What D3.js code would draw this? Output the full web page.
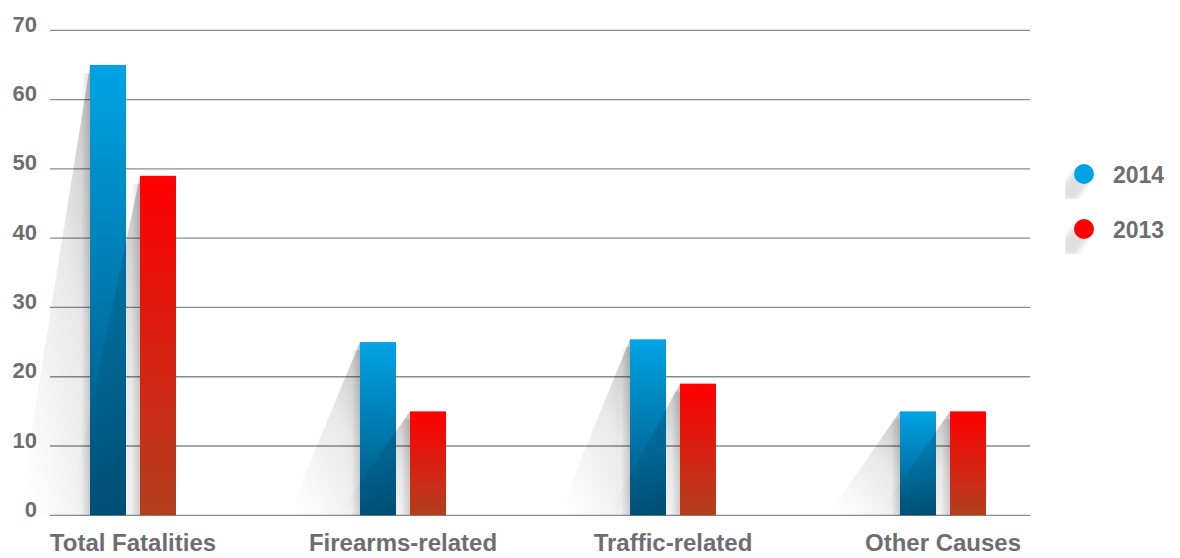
<!DOCTYPE html>
<html>
<head>
<meta charset="utf-8">
<script src="https://cdn.jsdelivr.net/npm/d3@7"></script>
<style>
  html, body { margin: 0; padding: 0; background: #fff; }
  svg { display: block; }
  text { font-family: "Liberation Sans", Arial, Helvetica, sans-serif; font-weight: bold; fill: #6d6e71; }
</style>
</head>
<body>
<svg id="chart" width="1180" height="558"></svg>
<script>
const categories = ["Total Fatalities", "Firearms-related", "Traffic-related", "Other Causes"];
const seriesNames = ["2014", "2013"];
const values2014 = [65, 25, 25.4, 15];
const values2013 = [49, 15, 19, 15];
const yTicks = [0, 10, 20, 30, 40, 50, 60, 70];

const svg = d3.select("#chart");
const plotLeft = 50, plotRight = 1030;

const y = d3.scaleLinear().domain([0, 70]).range([515.3, 30.3]);
const x0 = d3.scaleBand().domain(categories).range([-2, 1078]).padding(0);
const x1 = d3.scaleBand().domain(seriesNames).range([-43, 43]).paddingInner(0.28).paddingOuter(0);

const defs = svg.append("defs");
function vgrad(id, top, bottom) {
  const g = defs.append("linearGradient").attr("id", id).attr("x1", 0).attr("y1", 0).attr("x2", 0).attr("y2", 1);
  g.append("stop").attr("offset", "0%").attr("stop-color", top);
  g.append("stop").attr("offset", "100%").attr("stop-color", bottom);
}
vgrad("g2014", "#00a4e6", "#005078");
vgrad("g2013", "#ff0000", "#b2401f");

const sg = defs.append("linearGradient").attr("id", "shadowGrad").attr("x1", 1).attr("y1", 0).attr("x2", 0.15).attr("y2", 1);
sg.append("stop").attr("offset", "0%").attr("stop-color", "#000").attr("stop-opacity", 0.24);
sg.append("stop").attr("offset", "40%").attr("stop-color", "#000").attr("stop-opacity", 0.09);
sg.append("stop").attr("offset", "100%").attr("stop-color", "#000").attr("stop-opacity", 0);

const eg = defs.append("linearGradient").attr("id", "edgeGrad").attr("x1", 0).attr("y1", 0).attr("x2", 1).attr("y2", 0);
eg.append("stop").attr("offset", "0%").attr("stop-color", "#000").attr("stop-opacity", 0);
eg.append("stop").attr("offset", "100%").attr("stop-color", "#000").attr("stop-opacity", 0.14);

const lg = defs.append("filter").attr("id", "blur").attr("x", "-50%").attr("y", "-50%").attr("width", "200%").attr("height", "200%");
lg.append("feGaussianBlur").attr("stdDeviation", 2.5);

// gridlines
svg.append("g").selectAll("line").data(yTicks).join("line")
  .attr("x1", plotLeft).attr("x2", plotRight)
  .attr("y1", d => y(d)).attr("y2", d => y(d))
  .attr("stroke", "#8a8a8a").attr("stroke-width", 1.3);

// y labels
svg.append("g").selectAll("text").data(yTicks).join("text")
  .attr("x", 37).attr("y", d => y(d) + 1.5)
  .attr("text-anchor", "end")
  .attr("font-size", 22)
  .text(d => d);

// bars
const data = categories.map((c, i) => ({ cat: c, vals: [
  { s: "2014", v: values2014[i] },
  { s: "2013", v: values2013[i] }
]}));

const groups = svg.append("g").selectAll("g").data(data).join("g")
  .attr("transform", d => `translate(${x0(d.cat) + x0.bandwidth() / 2},0)`);

groups.each(function(d) {
  const g = d3.select(this);
  d.vals.forEach(b => {
    const bx = x1(b.s), bw = x1.bandwidth();
    const top = y(b.v), bottom = y(0);
    g.append("path")
      .attr("d", `M${bx},${top} L${bx},${bottom} L${bx - 72},${bottom} Z`)
      .attr("fill", "url(#shadowGrad)");
    g.append("rect")
      .attr("x", bx - 9).attr("y", top + 8).attr("width", 9).attr("height", bottom - top - 8)
      .attr("fill", "url(#edgeGrad)");
    g.append("rect")
      .attr("x", bx).attr("y", top).attr("width", bw).attr("height", bottom - top)
      .attr("fill", b.s === "2014" ? "url(#g2014)" : "url(#g2013)");
  });
});

// category labels
svg.append("g").selectAll("text").data(categories).join("text")
  .attr("x", d => x0(d) + x0.bandwidth() / 2)
  .attr("y", 551)
  .attr("text-anchor", "middle")
  .attr("font-size", 24)
  .text(d => d);

// legend
const legendColors = { "2014": "#00a4e6", "2013": "#ff0000" };
const legend = svg.append("g").selectAll("g").data(seriesNames).join("g")
  .attr("transform", (d, i) => `translate(1084,${174 + i * 55})`);
legend.append("line")
  .attr("x1", -2).attr("y1", 2).attr("x2", -13).attr("y2", 17)
  .attr("stroke", "#000").attr("stroke-opacity", 0.12).attr("stroke-width", 19)
  .attr("stroke-linecap", "round").attr("filter", "url(#blur)");
legend.append("circle").attr("r", 10).attr("fill", d => legendColors[d]);
legend.append("text")
  .attr("x", 29).attr("y", 9)
  .attr("font-size", 23)
  .text(d => d);
</script>
</body>
</html>
